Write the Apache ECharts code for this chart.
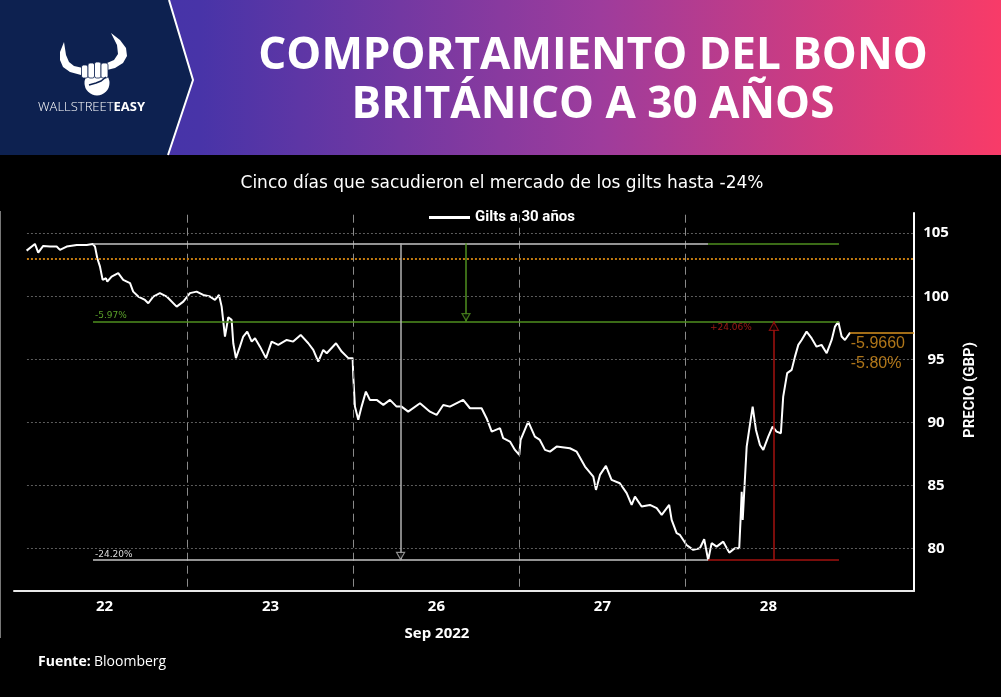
<!DOCTYPE html>
<html>
<head>
<meta charset="utf-8">
<script src="https://cdn.jsdelivr.net/npm/echarts@6/dist/echarts.min.js"></script>
<style>
html,body{margin:0;padding:0;background:#000;}
#chart{width:1001px;height:697px;}
</style>
</head>
<body>
<div id="chart"></div>
<script>
// ---- Data ----
const dayLabels = ['22', '23', '26', '27', '28'];
const dayLabelPos = [0.5, 1.5, 2.5, 3.5, 4.5];
const daySeparators = [1, 2, 3, 4];
const yTicks = [80, 85, 90, 95, 100, 105];

// position in trading days (0 = open of 22 Sep), price in GBP
const dayPos = [0.031,0.081,0.101,0.131,0.172,0.212,0.232,0.272,0.333,0.393,0.429,0.443,0.457,0.473,0.489,0.509,0.517,0.543,0.583,0.613,0.654,0.673,0.704,0.744,0.764,0.794,0.834,0.875,0.935,0.975,
1.015,1.055,1.095,1.136,1.166,1.190,1.206,1.226,1.246,1.266,1.276,1.292,1.316,1.336,1.360,1.387,1.407,1.437,1.473,1.507,1.547,1.598,1.637,1.682,1.728,1.758,1.788,1.818,1.839,1.895,1.929,1.969,1.995,
1.999,2.009,2.029,2.049,2.075,2.099,2.140,2.180,2.220,2.260,2.290,2.330,2.401,2.461,2.501,2.541,2.581,2.661,2.702,2.772,2.802,2.833,2.883,2.902,2.943,2.973,2.999,
3.007,3.053,3.093,3.123,3.154,3.184,3.224,3.304,3.345,3.395,3.445,3.461,3.485,3.521,3.555,3.605,3.646,3.676,3.696,3.736,3.786,3.827,3.857,3.902,3.917,3.947,3.967,
4.007,4.047,4.087,4.113,4.137,4.158,4.188,4.228,4.264,4.298,4.324,4.332,4.339,4.345,4.358,4.369,4.384,4.405,4.425,4.449,4.469,4.499,4.525,4.549,4.575,4.589,4.613,4.640,4.660,4.680,4.700,4.730,4.760,4.790,4.820,4.851,4.881,4.901,4.921,4.941,4.961,4.992];
const price = [103.62,104.15,103.46,103.99,103.94,103.94,103.68,103.94,104.07,104.07,104.15,103.94,103.02,102.35,101.30,101.43,101.16,101.56,101.83,101.30,101.04,100.37,99.98,99.71,99.45,99.98,100.25,99.98,99.18,99.58,
100.25,100.37,100.11,99.98,99.71,100.11,99.18,96.81,98.34,98.13,96.28,95.10,96.01,96.81,97.20,96.41,96.68,96.01,95.10,96.41,96.15,96.54,96.41,96.94,96.28,95.75,94.83,95.75,95.49,96.28,95.62,95.10,95.10,
93.64,91.26,90.21,91.26,92.45,91.79,91.79,91.40,91.79,91.26,91.26,90.86,91.53,90.86,90.60,91.39,91.26,91.79,91.13,91.13,90.34,89.28,89.55,88.76,88.49,87.83,87.43,
88.62,90.07,88.88,88.62,87.83,87.69,88.09,87.96,87.69,86.51,85.71,84.66,85.85,86.56,85.45,85.19,84.40,83.47,84.13,83.34,83.47,83.21,82.68,83.47,82.28,81.23,81.09,
80.30,79.91,80.04,80.75,79.11,80.44,80.17,80.56,79.69,80.04,80.04,82.28,84.52,82.28,85.45,88.09,89.41,91.26,89.41,88.22,87.83,88.88,89.68,89.28,89.15,92.05,93.91,94.17,95.22,96.15,96.54,97.20,96.68,96.01,96.15,95.49,96.54,97.60,97.99,96.81,96.54,97.12];

// annotation levels (price) and positions (days)
const highLevel = 104.2;
const dropLevel = 98.0;
const lowLevel = 79.11;
const orangeLevel = 103.0;
const lastLevel = 97.08;
const measureStart = 0.431, colorSwitch = 4.136, measureEnd = 4.925;
const grayArrowX = 2.284, greenArrowX = 2.678, redArrowX = 4.533;
const pctLabels = ['-5.97%', '-24.20%', '+24.06%'];
const lastLabels = ['-5.9660', '-5.80%'];

// ---- Chart ----
const X_MIN = -0.045, X_MAX = 5.377, Y_MIN = 76.65, Y_MAX = 106.6;
const GRID_X0 = 0.033;
const GREEN = '#4f8f1f', RED = '#a3120f', ORANGE = '#d9921f', LGRAY = '#c4c4c4';
const NAVY = '#0d2150';

function seg(x1, y1, x2, y2, style, label) {
  const a = {coord: [x1, y1], lineStyle: style};
  const b = {coord: [x2, y2], lineStyle: style};
  if (label) { a.label = label; b.label = label; } else { a.label = {show:false}; b.label = {show:false}; }
  return [a, b];
}

const gridLines = yTicks.map(v => seg(GRID_X0, v, X_MAX, v, {color:'#5c5c5c', width:1, type:[2,2]}));
const sepLines = daySeparators.map(x => seg(x, 76.99, x, Y_MAX, {color:'#8a8a8a', width:1, type:[8,5]}));
const orangeDotted = seg(GRID_X0, orangeLevel, X_MAX, orangeLevel, {color:'#c27a10', width:2, type:[2,2]});

const annLines = [
  seg(measureStart, highLevel, colorSwitch, highLevel, {color:LGRAY, width:1.5, type:'solid'}),
  seg(colorSwitch, highLevel, measureEnd, highLevel, {color:GREEN, width:1.5, type:'solid'}),
  seg(measureStart, dropLevel, measureEnd, dropLevel, {color:GREEN, width:1.5, type:'solid'},
      {show:true, position:'insideStartTop', formatter: pctLabels[0], color:'#5aa02a', fontSize:9, fontFamily:'DejaVu Sans', distance:[2,1]}),
  seg(measureStart, lowLevel, colorSwitch, lowLevel, {color:LGRAY, width:1.5, type:'solid'},
      {show:true, position:'insideStartTop', formatter: pctLabels[1], color:'#dddddd', fontSize:9, fontFamily:'DejaVu Sans', distance:[2,1]}),
  seg(colorSwitch, lowLevel, measureEnd, lowLevel, {color:RED, width:1.5, type:'solid'}),
  seg(grayArrowX, highLevel, grayArrowX, lowLevel, {color:'#b0b0b0', width:1.5, type:'solid'}),
  seg(greenArrowX, highLevel, greenArrowX, dropLevel, {color:GREEN, width:1.5, type:'solid'}),
  seg(redArrowX, lowLevel, redArrowX, dropLevel, {color:RED, width:1.5, type:'solid'}),
  seg(4.991, lastLevel, X_MAX, lastLevel, {color:ORANGE, width:1.5, type:'solid'})
];

const chart = echarts.init(document.getElementById('chart'), null, {renderer:'canvas'});

const option = {
  backgroundColor: '#000',
  animation: false,
  title: [
    {text: 'COMPORTAMIENTO DEL BONO\nBRITÁNICO A 30 AÑOS', left: 588, top: 27, textAlign: 'center',
     textStyle: {color:'#fff', fontSize:44, fontWeight:'bold', lineHeight:49, fontFamily:'Open Sans'}},
    {text: 'Cinco días que sacudieron el mercado de los gilts hasta -24%', left: 497, top: 170, textAlign: 'center',
     textStyle: {color:'#fff', fontSize:17, fontWeight:'normal', fontFamily:'DejaVu Sans'}}
  ],
  legend: {
    show: true, left: 424, top: 205, icon: 'rect', itemWidth: 41, itemHeight: 3, itemGap: 8,
    textStyle: {color:'#fff', fontSize:15, fontWeight:'bold', fontFamily:'Roboto'},
    data: ['Gilts a 30 años']
  },
  grid: {left: 14, right: 87, top: 213, bottom: 106, containLabel: false},
  xAxis: {
    type: 'value', min: X_MIN, max: X_MAX,
    axisLine: {show:true, onZero:false, lineStyle:{color:'#e8e8e8', width:2}},
    axisTick: {show:false},
    splitLine: {show:false},
    axisLabel: {customValues: dayLabelPos, formatter: v => dayLabels[Math.floor(v)], color:'#fff', fontSize:15, fontWeight:'bold', fontFamily:'Open Sans', margin:8}
  },
  yAxis: {
    type: 'value', position: 'right', min: Y_MIN, max: Y_MAX,
    axisLine: {show:true, onZero:false, lineStyle:{color:'#fff', width:2}},
    axisTick: {show:false},
    splitLine: {show:false},
    axisLabel: {customValues: yTicks, color:'#fff', fontSize:15, fontWeight:'bold', fontFamily:'Open Sans', align:'center', margin:22}
  },
  series: [
    {
      name: 'grid', type: 'line', data: [], z: 1, silent: true,
      markLine: {silent:true, symbol:['none','none'], animation:false, label:{show:false},
                 data: gridLines.concat(sepLines, [orangeDotted])}
    },
    {
      name: 'Gilts a 30 años', type: 'line', z: 3,
      data: dayPos.map((x, i) => [x, price[i]]),
      showSymbol: false, symbol: 'none',
      lineStyle: {color:'#fff', width:2},
      itemStyle: {color:'#fff'},
      markLine: {silent:true, symbol:['none','none'], animation:false, label:{show:false}, data: annLines}
    },
    {
      name: 'arrows', type: 'scatter', z: 5, silent: true,
      data: [
        {value:[greenArrowX, 98.35], symbolRotate:180, symbolSize:[8,7], itemStyle:{color:'#000', borderColor:GREEN, borderWidth:1.2}},
        {value:[grayArrowX, 79.43], symbolRotate:180, symbolSize:[8,7], itemStyle:{color:'#000', borderColor:'#b0b0b0', borderWidth:1.2}},
        {value:[redArrowX, 97.62], symbolRotate:0, symbolSize:[9,8], itemStyle:{color:'#000', borderColor:RED, borderWidth:1.2}}
      ],
      symbol: 'triangle'
    },
    {
      name: 'texts', type: 'scatter', z: 6, silent: true, symbolSize: 0,
      data: [
        {value:[4.148, 97.5], label:{show:true, position:'right', distance:0, formatter: pctLabels[2], color:'#c0221a', fontSize:9, fontFamily:'DejaVu Sans'}},
        {value:[4.996, 96.23], label:{show:true, position:'right', distance:0, formatter: lastLabels[0], color:ORANGE, fontSize:16, fontFamily:'Liberation Sans'}},
        {value:[4.996, 94.64], label:{show:true, position:'right', distance:0, formatter: lastLabels[1], color:ORANGE, fontSize:16, fontFamily:'Liberation Sans'}}
      ]
    }
  ],
  graphic: [
    {type:'rect', z:0, silent:true, shape:{x:0, y:0, width:1001, height:155},
     style:{fill: new echarts.graphic.LinearGradient(0,0,1,0,[{offset:0, color:'#3f33a8'},{offset:0.2, color:'#4834a8'},{offset:0.6, color:'#9e3c9c'},{offset:1, color:'#f83b68'}])}},
    {type:'polygon', z:1, silent:true, shape:{points:[[0,0],[169,0],[193,80],[168,155],[0,155]]}, style:{fill:NAVY}},
    {type:'polyline', z:2, silent:true, shape:{points:[[169,0],[193,80],[168,155]]}, style:{stroke:'#fff', lineWidth:2, fill:null}},
    // logo horns and fist
    {type:'polygon', z:3, silent:true, shape:{points:[[64,42],[60,52],[60,60],[63,67],[70,72],[81,75],[83,68],[74,66],[69,62],[66,55]]}, style:{fill:'#fff'}},
    {type:'polygon', z:3, silent:true, shape:{points:[[111,33],[120,40],[126,48],[127,56],[123,63],[115,68],[107,70],[107,63],[114,60],[118,54],[117,45]]}, style:{fill:'#fff'}},
    {type:'circle', z:3, silent:true, shape:{cx:97, cy:83, r:12.5}, style:{fill:'#fff'}},
    {type:'rect', z:3, silent:true, shape:{x:81.5, y:65, width:6.5, height:13, r:2}, style:{fill:'#fff', stroke:NAVY, lineWidth:0.8}},
    {type:'rect', z:3, silent:true, shape:{x:88, y:63, width:6.5, height:15, r:2}, style:{fill:'#fff', stroke:NAVY, lineWidth:0.8}},
    {type:'rect', z:3, silent:true, shape:{x:94.5, y:62, width:6.5, height:16, r:2}, style:{fill:'#fff', stroke:NAVY, lineWidth:0.8}},
    {type:'rect', z:3, silent:true, shape:{x:101, y:63, width:7, height:15, r:2}, style:{fill:'#fff', stroke:NAVY, lineWidth:0.8}},
    {type:'polyline', z:4, silent:true, shape:{points:[[89,85],[96,83],[101,81],[106,77]]}, style:{stroke:NAVY, lineWidth:1.5, fill:null}},
    {type:'text', z:3, silent:true, left:38, top:101,
     style:{text:'{a|WALLSTREET}{b|EASY}', rich:{a:{fill:'#fff', fontSize:13, fontFamily:'Open Sans', fontWeight:300}, b:{fill:'#fff', fontSize:13, fontFamily:'Open Sans', fontWeight:'bold'}}}},
    // left frame border
    {type:'line', z:3, silent:true, shape:{x1:0.5, y1:211, x2:0.5, y2:638}, style:{stroke:'#777', lineWidth:1}},
    // axis titles
    {type:'text', z:3, silent:true, x:437, y:634,
     style:{text:'Sep 2022', fill:'#fff', fontSize:15, fontWeight:'bold', fontFamily:'Open Sans', align:'center', verticalAlign:'middle'}},
    {type:'text', z:3, silent:true, x:970, y:390, rotation: Math.PI/2,
     style:{text:'PRECIO (GBP)', fill:'#fff', fontSize:15, fontWeight:'bold', fontFamily:'Roboto', align:'center', verticalAlign:'middle'}},
    // source
    {type:'text', z:3, silent:true, left:38, top:655,
     style:{text:'{b|Fuente:} {r|Bloomberg}', rich:{b:{fill:'#fff', fontSize:14, fontWeight:'bold', fontFamily:'Open Sans'}, r:{fill:'#fff', fontSize:14, fontFamily:'Open Sans'}}}}
  ]
};
chart.setOption(option);
</script>
</body>
</html>
